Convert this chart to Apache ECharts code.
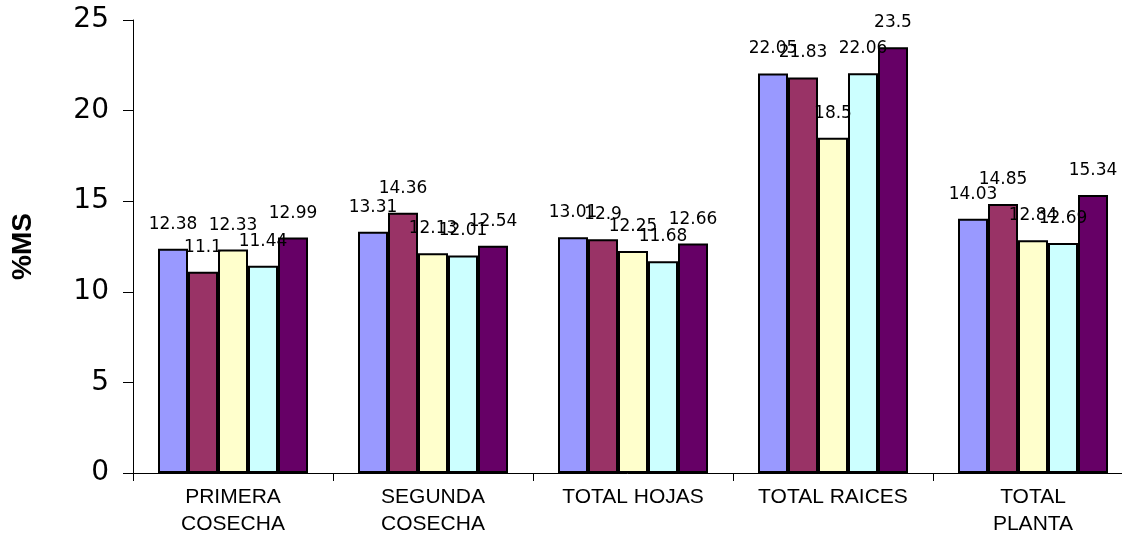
<!DOCTYPE html>
<html>
<head>
<meta charset="utf-8">
<script src="https://cdn.jsdelivr.net/npm/echarts@6/dist/echarts.min.js"></script>
<style>
html,body{margin:0;padding:0;background:#fff;}
#c{width:1122px;height:536px;}
</style>
</head>
<body>
<div id="c"></div>
<script>
const categories = ["PRIMERA\nCOSECHA", "SEGUNDA\nCOSECHA", "TOTAL HOJAS", "TOTAL RAICES", "TOTAL\nPLANTA"];
const s1 = [12.38, 13.31, 13.01, 22.05, 14.03];
const s2 = [11.1, 14.36, 12.9, 21.83, 14.85];
const s3 = [12.33, 12.13, 12.25, 18.5, 12.84];
const s4 = [11.44, 12.01, 11.68, 22.06, 12.69];
const s5 = [12.99, 12.54, 12.66, 23.5, 15.34];
const yTicks = [0, 5, 10, 15, 20, 25];
const colors = ["#9999FF", "#993366", "#FFFFCC", "#CCFFFF", "#660066"];

const chart = echarts.init(document.getElementById('c'));
const seriesData = [s1, s2, s3, s4, s5];
chart.setOption({
  animation: false,
  grid: {left: 133, right: -11, top: 20, bottom: 63, containLabel: false, outerBoundsMode: 'none'},
  xAxis: {
    type: 'category',
    data: categories,
    axisLine: {lineStyle: {color: '#000', width: 1}},
    axisTick: {show: true, length: 8, lineStyle: {color: '#000'}},
    axisLabel: {color: '#000', fontFamily: 'Liberation Sans, Arial', fontSize: 21, lineHeight: 27, margin: 11, interval: 0}
  },
  yAxis: {
    type: 'value',
    min: yTicks[0],
    max: yTicks[yTicks.length - 1],
    interval: 5,
    name: '%MS',
    nameLocation: 'middle',
    nameRotate: 90,
    nameGap: 96,
    nameTextStyle: {color: '#000', fontFamily: 'Liberation Sans, Arial', fontSize: 28, fontWeight: 'bold'},
    splitLine: {show: false},
    axisLine: {show: true, lineStyle: {color: '#000', width: 1}},
    axisTick: {show: true, length: 10, lineStyle: {color: '#000'}},
    axisLabel: {color: '#000', fontFamily: 'DejaVu Sans', fontSize: 28, margin: 24}
  },
  series: seriesData.map((d, i) => ({
    type: 'bar',
    data: d,
    barGap: '0%',
    barCategoryGap: '25%',
    itemStyle: {color: colors[i], borderColor: '#000', borderWidth: 2},
    label: {show: true, position: 'top', distance: 16, color: '#000', fontFamily: 'DejaVu Sans', fontSize: 17}
  }))
});
</script>
</body>
</html>
